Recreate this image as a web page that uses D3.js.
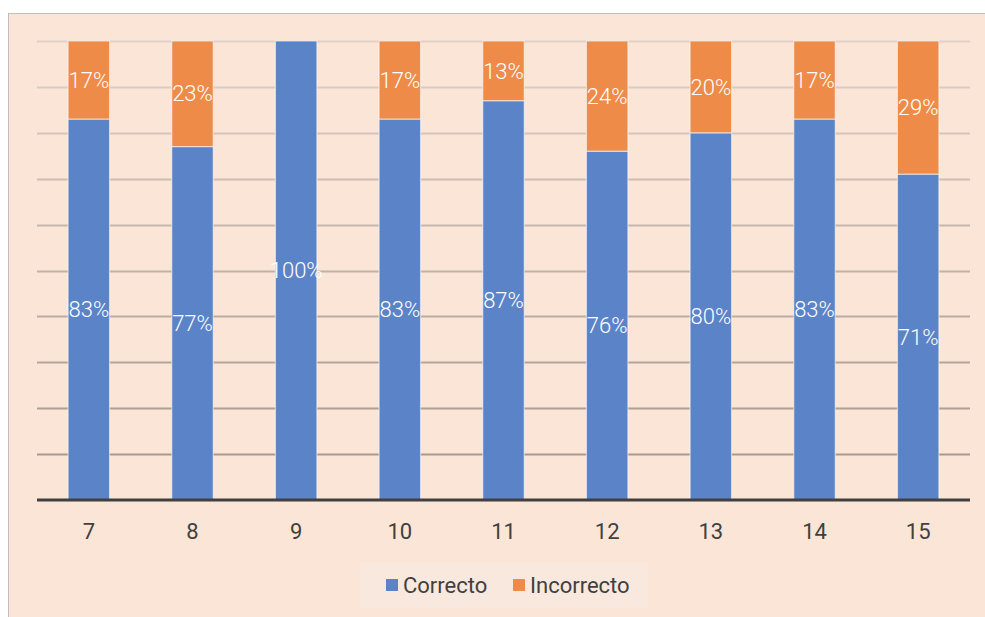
<!DOCTYPE html>
<html>
<meta charset="utf-8">
<head>
<title>Correcto / Incorrecto</title>
<style>
  body { margin: 0; background: #ffffff; }
  svg { display: block; font-family: Roboto, "Liberation Sans", sans-serif; }
</style>
</head>
<body>
<script src="https://cdn.jsdelivr.net/npm/d3@7"></script>
<script>

// data
var categories = ["7", "8", "9", "10", "11", "12", "13", "14", "15"];
var correcto   = [83, 77, 100, 83, 87, 76, 80, 83, 71];
var incorrecto = [17, 23, 0, 17, 13, 24, 20, 17, 29];
var seriesNames = ["Correcto", "Incorrecto"];
var seriesColors = ["#5b84c8", "#ee8b48"];

var W = 985, H = 617;
var margin = {top: 41, right: 15, bottom: 117, left: 37},
  width = W - margin.left - margin.right,
  height = H - margin.top - margin.bottom;

var svg = d3.select("body").append("svg")
  .attr("width", W)
  .attr("height", H);

// chart frame
svg.append("rect")
  .attr("x", 8.5).attr("y", 13.5)
  .attr("width", W + 10).attr("height", H + 10)
  .attr("fill", "#fbe5d6")
  .attr("stroke", "#bfbfbf")
  .attr("stroke-width", 1);

var g = svg.append("g")
  .attr("transform", "translate(" + margin.left + "," + margin.top + ")");

var x = d3.scaleBand().domain(categories).range([0, width]).paddingInner(0.6).paddingOuter(0.3);
var y = d3.scaleLinear().domain([0, 100]).range([height, 0]);
var color = d3.scaleOrdinal().domain(seriesNames).range(seriesColors);

// gridlines, getting darker toward the bottom
var ticks = d3.range(10, 101, 10);
var gridColor = d3.interpolateRgb("#a9998f", "#dfd1c7");
g.selectAll(".grid")
  .data(ticks)
  .enter().append("line")
  .attr("class", "grid")
  .attr("x1", 0).attr("x2", width)
  .attr("y1", function(d) { return Math.round(y(d)) + 0.5; })
  .attr("y2", function(d) { return Math.round(y(d)) + 0.5; })
  .attr("stroke", function(d) { return gridColor((d - 10) / 90); })
  .attr("stroke-width", 2);

// stack the series
var rows = categories.map(function(c, i) {
  return {cat: c, Correcto: correcto[i], Incorrecto: incorrecto[i]};
});
var stack = d3.stack().keys(seriesNames)(rows);

var layer = g.selectAll(".layer")
  .data(stack)
  .enter().append("g")
  .attr("class", "layer")
  .attr("fill", function(d) { return color(d.key); });

layer.selectAll("rect")
  .data(function(d) { return d; })
  .enter().append("rect")
  .attr("x", function(d) { return x(d.data.cat); })
  .attr("width", x.bandwidth())
  .attr("y", function(d) { return y(d[1]); })
  .attr("height", function(d) { return y(d[0]) - y(d[1]); })
  .attr("stroke", "rgba(255,255,255,0.55)")
  .attr("stroke-width", 1.2);

// value labels
layer.selectAll("text")
  .data(function(d) { return d; })
  .enter().filter(function(d) { return d[1] - d[0] > 0; })
  .append("text")
  .attr("x", function(d) { return x(d.data.cat) + x.bandwidth() / 2; })
  .attr("y", function(d) { return (y(d[0]) + y(d[1])) / 2; })
  .attr("dy", "0.35em")
  .attr("text-anchor", "middle")
  .attr("fill", "#ffffff")
  .style("font-size", "22px")
  .style("font-weight", 300)
  .text(function(d) { return (d[1] - d[0]) + "%"; });

// baseline
g.append("line")
  .attr("x1", 0).attr("x2", width)
  .attr("y1", height).attr("y2", height)
  .attr("stroke", "#404040")
  .attr("stroke-width", 3);

// x axis labels
var xAxis = g.append("g")
  .attr("transform", "translate(0," + height + ")")
  .call(d3.axisBottom(x).tickSize(0).tickPadding(23));
xAxis.select(".domain").remove();
xAxis.selectAll("text")
  .attr("fill", "#404040")
  .style("font-family", "Roboto, sans-serif")
  .style("font-size", "22px");

// legend
var legend = svg.append("g").attr("transform", "translate(360,563)");
legend.append("rect")
  .attr("width", 288).attr("height", 45)
  .attr("fill", "#f9e8de");

var items = legend.selectAll(".item")
  .data(seriesNames)
  .enter().append("g")
  .attr("class", "item")
  .attr("transform", function(d, i) { return "translate(" + (26 + i * 127) + ",0)"; });
items.append("rect")
  .attr("y", 16).attr("width", 12).attr("height", 12)
  .attr("fill", function(d) { return color(d); });
items.append("text")
  .attr("x", 17).attr("y", 22)
  .attr("dy", "0.35em")
  .attr("fill", "#404040")
  .style("font-size", "22px")
  .text(function(d) { return d; });

</script>
</body>
</html>
